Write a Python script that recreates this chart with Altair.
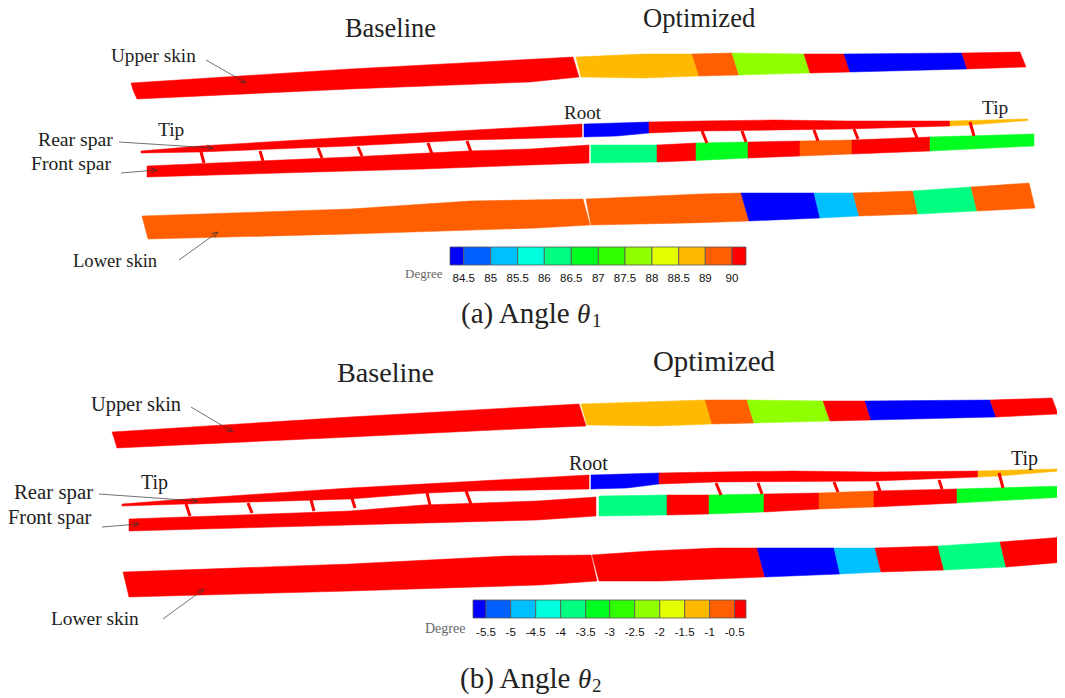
import altair as alt
import pandas as pd
import math

BLUE, BLUE2, SKY, CYAN, TEAL, GREEN, LIME1, LIME2, YEL, AMBER, ORANGE, RED = (
    "#0000ff", "#005fff", "#00bfff", "#00ffdf", "#00ff80", "#00ff20",
    "#30ff00", "#90ff00", "#e4ff00", "#ffb900", "#ff5f00", "#ff0000")
BAR_COLORS = [BLUE, BLUE2, SKY, CYAN, TEAL, GREEN, LIME1, LIME2, YEL, AMBER, ORANGE, RED]

# ---- panel (a) wing sections, [colour, outline vertices] in picture units
POLY_A = [
    # upper skin
    [RED, [(131,83),(350,69),(573,57),(579,77),(530,82),(350,89),(137,99),(133,90)]],
    [AMBER, [(576,57),(643,54),(692,54),(699,76),(643,78),(581,77)]],
    [ORANGE, [(692,54),(732,53),(739,75),(699,76)]],
    [LIME2, [(732,53),(804,54),(810,73),(739,75)]],
    [RED, [(804,54),(844,54),(850,72),(810,73)]],
    [BLUE, [(844,54),(962,53),(967,69),(850,72)]],
    [RED, [(962,53),(1020,52),(1026,67),(967,69)]],
    # rear spar
    [RED, [(141,151),(200,146),(350,137),(582,124),(582,137),(467,140),(350,146),(200,152),(141,153)]],
    [BLUE, [(584,124),(649,122),(649,133),(617,136),(584,137)]],
    [RED, [(649,122),(700,121),(774,120),(847,121),(950,121),(950,126),(847,129),(700,131),(649,133)]],
    [AMBER, [(950,121),(1028,119),(1028,120.5),(970,125),(950,126)]],
    # front spar
    [RED, [(147,166),(350,157),(467,151),(530,149),(589,145),(589,163),(530,165),(423,169),(350,171),(147,177)]],
    [TEAL, [(591,145),(657,145),(657,162),(591,163)]],
    [RED, [(657,145),(696,143),(696,160.5),(657,162)]],
    [GREEN, [(696,143),(748,142),(748,158),(696,160.5)]],
    [RED, [(748,142),(800,141),(800,156),(748,158)]],
    [ORANGE, [(800,141),(852,140),(852,154),(800,156)]],
    [RED, [(852,140),(930,137),(930,151),(852,154)]],
    [GREEN, [(930,137),(1034,134),(1034,146),(930,151)]],
    # lower skin
    [ORANGE, [(142,216),(350,209),(470,201),(583,199),(590,225),(537,228),(350,234),(148,239)]],
    [ORANGE, [(586,199),(633,197),(700,194),(741,193),(749,221),(700,222.7),(640,224),(591,225)]],
    [BLUE, [(741,193),(814,193),(820,218),(749,221)]],
    [SKY, [(814,193),(853,193),(859,216),(820,218)]],
    [ORANGE, [(853,193),(913,191),(918,214),(859,216)]],
    [TEAL, [(913,191),(971,187),(977,211),(918,214)]],
    [ORANGE, [(971,187),(1029,183),(1035,208),(977,211)]],
]

# ---- panel (b) wing sections
POLY_B = [
    [RED, [(112,432),(350,417),(579,404),(586,426),(537,428),(350,437),(117,448),(114,438)]],
    [AMBER, [(581,404),(705,400),(712,424),(657,426),(587,425)]],
    [ORANGE, [(705,400),(747,400),(754,423),(712,424)]],
    [LIME2, [(747,400),(823,401),(830,421),(754,423)]],
    [RED, [(823,401),(865,401),(871,420),(830,421)]],
    [BLUE, [(865,401),(990,400),(996,417),(871,420)]],
    [RED, [(990,400),(1052,398),(1058,414),(996,417)]],
    # rear spar
    [RED, [(122,504),(186,499),(350,488),(589,475),(589,489),(473,491),(423,493.3),(350,499),(186,504),(122,506)]],
    [BLUE, [(591,475),(659,473),(659,484),(627,488),(591,489)]],
    [RED, [(659,473),(715,472),(792,471),(875,472),(978,471),(978,477),(875,481),(715,482),(659,484)]],
    [AMBER, [(978,471),(1060,469),(1060,471),(999,476),(978,477)]],
    # front spar
    [RED, [(129,519),(350,511),(423,505),(537,501),(596,497),(596,516),(537,520),(350,525),(129,531)]],
    [TEAL, [(599,496),(667,495),(667,515),(599,516)]],
    [RED, [(667,495),(709,495),(709,514),(667,515)]],
    [GREEN, [(709,495),(764,494),(764,512),(709,514)]],
    [RED, [(764,494),(819,493),(819,509),(764,512)]],
    [ORANGE, [(819,493),(874,491),(874,507),(819,509)]],
    [RED, [(874,491),(957,489),(957,503),(874,507)]],
    [GREEN, [(957,489),(1065,486),(1065,497),(957,503)]],
    # lower skin
    [RED, [(123,572),(350,564),(507,556),(591,555),(597,581),(540,585),(350,591),(129,597)]],
    [RED, [(592,555),(650,551),(715,548),(757,548),(765,577),(715,579),(660,581),(599,581)]],
    [BLUE, [(757,548),(834,548),(840,574),(765,577)]],
    [SKY, [(834,548),(875,548),(881,572),(840,574)]],
    [RED, [(875,548),(938,546),(944,570),(881,572)]],
    [TEAL, [(938,546),(1000,542),(1006,567),(944,570)]],
    [RED, [(1000,542),(1065,537),(1065,562),(1006,567)]],
]

# ---- spar ribs (x, y, x2, y2)
RIBS = [
    (201,152,204,163),(260,151,263,161),(318,148,322,158),(358,147,362,156),(428,143,432,154),(467,141,471,152),
    (702,131,707,143),(742,131,746,142),(814,130,818,141),(854,129,858,139),(913,128,917,138),(970,122,974,136),
    (186,504,190,516),(248,503,252,513),(311,500,314,511),(351,495,355,508),(427,493,430,505),(466,491,471,504),
    (716,483,721,495),(758,483,762,494),(834,482,838,492),(877,482,880,491),(939,480,942,489),(999,473,1003,488),
]

# ---- leader arrows (x, y, x2, y2)
ARROWS = [
    (206,60,246,83),(119,142,213,148),(121,173,157,170),(179,260,218,232),
    (191,407,233,432),(99,494,198,501),(102,527,139,524),(163,619,204,589),
]

# ---- colour bars
EDGES_A = [450,463.7,490.7,517.7,544.3,571.3,598.3,625,652,678.7,705.3,732,746]
LABELS_A = ["84.5","85","85.5","86","86.5","87","87.5","88","88.5","89","90"]
EDGES_B = [473,486,510.7,535.7,560.7,585.7,609.7,634.7,659.7,684.7,709.7,734.7,746]
LABELS_B = ["-5.5","-5","-4.5","-4","-3.5","-3","-2.5","-2","-1.5","-1","-0.5"]

# ---- serif labels: text, left x, baseline y, size
SERIF = [
    ("Baseline",345,37,26.4),("Optimized",643,27,26.6),("Upper skin",111,62,19.2),
    ("Rear spar",38,146,19.7),("Front spar",31,170,19.6),("Tip",158,136,19.4),
    ("Lower skin",73,267,18.6),("Root",564,119,19),("Tip",982,114,19.4),
    ("(a) Angle",461,323,29),
    ("Baseline",337,382,28.2),("Optimized",653,371,28.9),("Upper skin",91,411,20.4),
    ("Rear spar",14,499,20.8),("Front spar",8,524,20.4),("Tip",141,489,20),
    ("Lower skin",51,625,19.4),("Root",569,470,20),("Tip",1011,465,20),
    ("(b) Angle",460,688,29),
    ("1",592,327,19),("2",592,692,19),
]
THETA = [("θ",577,323,27),("θ",578,688,27)]
DEGREE = [("Degree",405,278,13),("Degree",425,633,14)]

x_s = alt.Scale(domain=[8,1057], nice=False, zero=False)
y_s = alt.Scale(domain=[697,8], nice=False, zero=False)
X = lambda f="x": alt.X(f"{f}:Q", scale=x_s, axis=None)
Y = lambda f="y": alt.Y(f"{f}:Q", scale=y_s, axis=None)

rows = []
for pid, (col, verts) in enumerate(POLY_A + POLY_B):
    for i, (px, py) in enumerate(verts + verts[:1]):
        rows.append(dict(id=pid, i=i, x=px, y=py, c=col))
polys = alt.Chart(pd.DataFrame(rows)).mark_line(strokeWidth=0.5, interpolate="linear", clip=True).encode(
    x=X(), y=Y(), order="i:Q", detail="id:N",
    fill=alt.Fill("c:N", scale=None), stroke=alt.Stroke("c:N", scale=None))

ribs = alt.Chart(pd.DataFrame(RIBS, columns=["x","y","x2","y2"])).mark_rule(color=RED, strokeWidth=3).encode(
    x=X(), y=Y(), x2="x2:Q", y2="y2:Q")

arrow_rows = []
for x0, y0, x1, y1 in ARROWS:
    arrow_rows.append((x0, y0, x1, y1))
    ang = math.atan2(y1 - y0, x1 - x0)
    for d in (2.7, -2.7):
        arrow_rows.append((x1, y1, x1 - 7 * math.cos(ang + d / 7), y1 - 7 * math.sin(ang + d / 7)))
arrows = alt.Chart(pd.DataFrame(arrow_rows, columns=["x","y","x2","y2"])).mark_rule(color="#333333", strokeWidth=0.7).encode(
    x=X(), y=Y(), x2="x2:Q", y2="y2:Q")

bar_rows = []
for edges, ytop, ybot in ((EDGES_A, 247, 265), (EDGES_B, 600, 618)):
    for k, col in enumerate(BAR_COLORS):
        bar_rows.append(dict(x=edges[k], x2=edges[k+1], y=ytop, y2=ybot, c=col))
bars = alt.Chart(pd.DataFrame(bar_rows)).mark_rect(stroke="#555555", strokeWidth=1, strokeOpacity=0.8).encode(
    x=X(), x2="x2:Q", y=Y(), y2="y2:Q", fill=alt.Fill("c:N", scale=None))

tick_rows = [dict(t=t, x=x, y=282) for t, x in zip(LABELS_A, EDGES_A[1:12])] + \
            [dict(t=t, x=x, y=636) for t, x in zip(LABELS_B, EDGES_B[1:12])]
ticks = alt.Chart(pd.DataFrame(tick_rows)).mark_text(font="Liberation Sans", fontSize=11.5, align="center", baseline="alphabetic", color="#111111").encode(
    x=X(), y=Y(), text="t:N")

def tx(rows_, **kw):
    df = pd.DataFrame(rows_, columns=["t","x","y","s"])
    return alt.Chart(df).mark_text(align="left", baseline="alphabetic", **kw).encode(
        x=X(), y=Y(), text="t:N", size=alt.Size("s:Q", scale=None, legend=None))

serif = tx(SERIF, font="Liberation Serif", color="#222222")
theta = tx(THETA, font="Liberation Serif", fontStyle="italic", color="#222222")
degree = tx(DEGREE, font="Liberation Serif", color="#666666")

chart = alt.layer(polys, ribs, arrows, bars, ticks, serif, theta, degree).properties(
    width=1049, height=689, padding=0, autosize=alt.AutoSizeParams(type="none"),
    background="white"
).configure_view(stroke=None)

chart.save("out.html", embed_options={"renderer": "svg", "actions": False})
